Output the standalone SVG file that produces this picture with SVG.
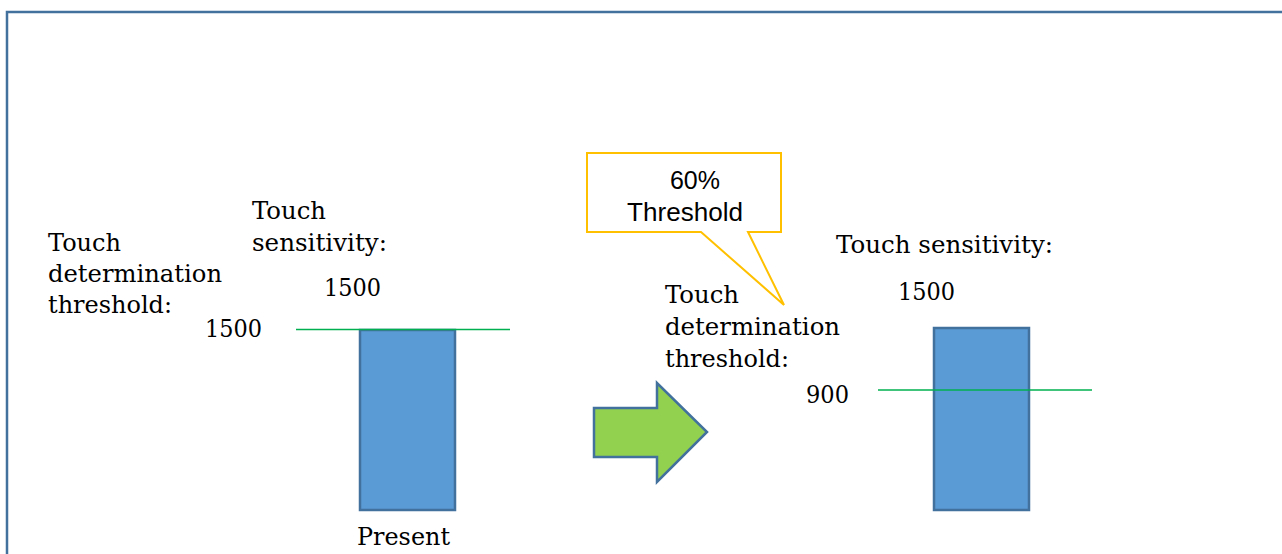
<svg xmlns="http://www.w3.org/2000/svg" width="1282" height="554" viewBox="0 0 1282 554">
<style>
.t{font-family:"DejaVu Serif","Liberation Serif",serif;font-size:24px;fill:#000}
.s{font-family:"Liberation Sans",Arial,sans-serif;font-size:25px;fill:#000}
.bar{fill:#5B9BD5;stroke:#41719C;stroke-width:2.5}
.lvl{stroke:#00B050;stroke-width:1.5}
</style>
<rect x="7" y="12" width="1300" height="600" fill="#fff" stroke="#41719C" stroke-width="2.5"/>
<g id="left-labels">
<text class="t" x="48" y="251" textLength="73" lengthAdjust="spacingAndGlyphs">Touch</text>
<text class="t" x="48" y="282" textLength="174" lengthAdjust="spacingAndGlyphs">determination</text>
<text class="t" x="48" y="313" textLength="124" lengthAdjust="spacingAndGlyphs">threshold:</text>
<text class="t" x="205" y="337" textLength="57" lengthAdjust="spacingAndGlyphs">1500</text>
<text class="t" x="252" y="219" textLength="74" lengthAdjust="spacingAndGlyphs">Touch</text>
<text class="t" x="252" y="251" textLength="135" lengthAdjust="spacingAndGlyphs">sensitivity:</text>
<text class="t" x="324" y="296" textLength="57" lengthAdjust="spacingAndGlyphs">1500</text>
</g>
<g id="present-bar">
<rect class="bar" x="360" y="330" width="95" height="180"/>
<text class="t" x="357" y="545" textLength="93" lengthAdjust="spacingAndGlyphs">Present</text>
</g>
<g id="arrow">
<path d="M594,408 H657 V383 L707,432 L657,482 V457 H594 Z" fill="#92D050" stroke="#41719C" stroke-width="2.5" stroke-linejoin="miter"/>
</g>
<g id="callout">
<path d="M587,153 H781 V232 H748 L784,305 L701,232 H587 Z" fill="#fff" stroke="#FFC000" stroke-width="2"/>
<text class="s" x="695" y="189" text-anchor="middle">60%</text>
<text class="s" x="685" y="221" text-anchor="middle" textLength="116" lengthAdjust="spacingAndGlyphs">Threshold</text>
</g>
<g id="right-labels">
<text class="t" x="665" y="303" textLength="74" lengthAdjust="spacingAndGlyphs">Touch</text>
<text class="t" x="665" y="335" textLength="175" lengthAdjust="spacingAndGlyphs">determination</text>
<text class="t" x="665" y="367" textLength="124" lengthAdjust="spacingAndGlyphs">threshold:</text>
<text class="t" x="806" y="403" textLength="43" lengthAdjust="spacingAndGlyphs">900</text>
<text class="t" x="836" y="253" textLength="217" lengthAdjust="spacingAndGlyphs">Touch sensitivity:</text>
<text class="t" x="898" y="300" textLength="57" lengthAdjust="spacingAndGlyphs">1500</text>
</g>
<g id="after-bar">
<rect class="bar" x="934" y="328" width="95" height="182"/>
</g>
<g id="connectors">
<line class="lvl" x1="296" y1="329.5" x2="510" y2="329.5"/>
<line class="lvl" x1="878" y1="390" x2="1092" y2="390"/>
</g>
</svg>
